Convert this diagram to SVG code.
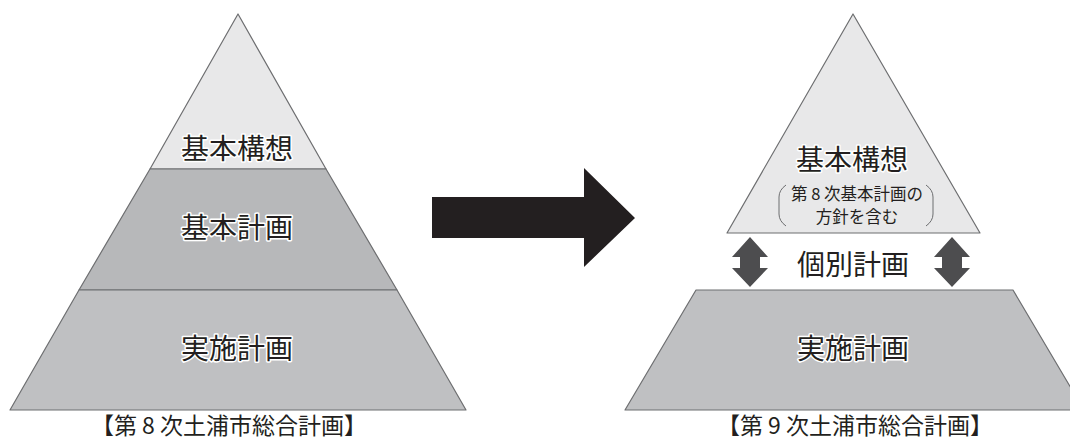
<svg xmlns="http://www.w3.org/2000/svg" width="1070" height="441" viewBox="0 0 1070 441">
<style>
.edge{stroke:#6d6e70;stroke-width:1.2;stroke-linejoin:round}
.lbl{font-family:"Noto Sans CJK JP","Noto Sans CJK SC",sans-serif;font-size:28px;fill:#231f20;text-anchor:middle;stroke:#ffffff;stroke-width:3;paint-order:stroke;stroke-linejoin:round}
.sub{font-family:"Noto Sans CJK JP","Noto Sans CJK SC",sans-serif;font-size:16.5px;fill:#231f20;text-anchor:middle}
.cap{font-family:"Noto Sans CJK JP","Noto Sans CJK SC",sans-serif;font-size:23px;fill:#231f20;text-anchor:middle}
.bracket{fill:none;stroke:#6d6e70;stroke-width:1}
</style>
<rect width="1070" height="441" fill="#ffffff"/>
<g id="left-pyramid">
  <g id="l-top">
    <polygon class="edge" points="238,14 326,169 150,169" fill="#e8e8e9"/>
    <text class="lbl" x="237" y="159">基本構想</text>
  </g>
  <g id="l-mid">
    <polygon class="edge" points="150,169 326,169 397,290 79,290" fill="#b7b8ba"/>
    <text class="lbl" x="237" y="238">基本計画</text>
  </g>
  <g id="l-bot">
    <polygon class="edge" points="79,290 397,290 466,410 10,410" fill="#bfc0c2"/>
    <text class="lbl" x="237" y="359">実施計画</text>
  </g>
  <text class="cap" x="229" y="434">【第 8 次土浦市総合計画】</text>
</g>
<g id="connectors">
  <polygon id="main-arrow" points="432,197 584,197 584,168 635,218 584,267 584,238 432,238" fill="#231f20"/>
  <polygon id="dbl-left" points="750,237 768,257 760,257 760,268 768,268 750,287 732,268 740,268 740,257 732,257" fill="#4d4d4f"/>
  <polygon id="dbl-right" points="952,237 970,257 962,257 962,268 970,268 952,287 934,268 942,268 942,257 934,257" fill="#4d4d4f"/>
</g>
<g id="right-pyramid">
  <g id="r-top">
    <polygon class="edge" points="853,14 980,233 727,233" fill="#e8e8e9"/>
    <text class="lbl" x="852" y="170">基本構想</text>
    <path class="bracket" d="M786,185 Q779,190 779,197 L779,214 Q779,221 786,226"/>
    <path class="bracket" d="M926,185 Q933,190 933,197 L933,214 Q933,221 926,226"/>
    <text class="sub" x="857" y="200">第 8 次基本計画の</text>
    <text class="sub" x="857" y="223">方針を含む</text>
  </g>
  <g id="r-individual">
    <text class="lbl" x="853" y="275">個別計画</text>
  </g>
  <g id="r-bot">
    <polygon class="edge" points="696,290 1013,290 1084,410 625,410" fill="#bfc0c2"/>
    <text class="lbl" x="853" y="359">実施計画</text>
  </g>
  <text class="cap" x="855" y="434">【第 9 次土浦市総合計画】</text>
</g>
</svg>
